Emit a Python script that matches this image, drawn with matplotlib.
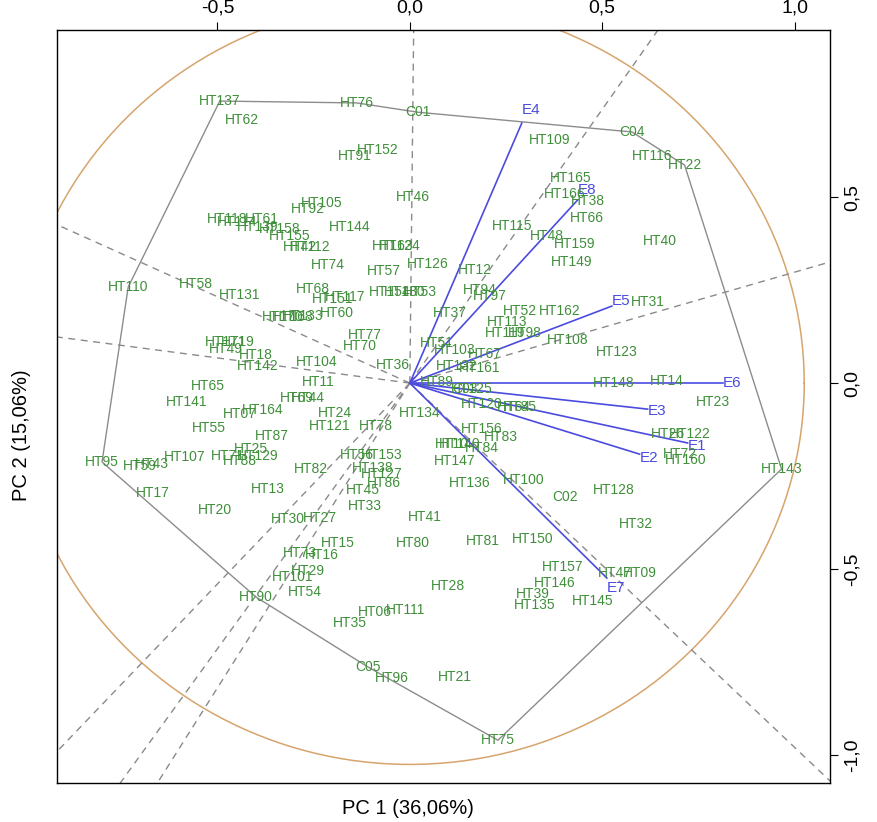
import numpy as np
import matplotlib.pyplot as plt

# genotype labels and their PC1 / PC2 scores
genotypes = ["HT137", "HT62", "HT76", "C01", "HT152", "HT91", "HT46", "HT105", "HT92",
             "HT118", "HT114", "HT61", "HT139", "HT158", "HT155", "HT144", "HT42", "HT112",
             "HT163", "HT124", "HT74", "HT57", "HT126", "HT12", "HT58", "HT110", "HT131",
             "HT68", "HT151", "HT117", "HT60", "HT170", "HT168", "HT133", "HT154", "HT130",
             "HT53", "HT94", "HT97", "HT37", "HT77", "HT70", "HT51", "HT103", "HT52",
             "HT162", "HT113", "HT119", "HT98", "HT108", "HT123", "HT67", "HT132", "HT161",
             "HT36", "HT104", "HT19", "HT49", "HT171", "HT18", "HT142", "HT11", "HT69",
             "HT44", "HT65", "HT141", "HT07", "HT164", "HT55", "HT24", "HT121", "HT78",
             "HT134", "HT89", "C03", "HT125", "HT120", "HT64", "HT85", "HT156", "HT83",
             "HT10", "HT140", "HT84", "HT147", "HT136", "HT100", "C02", "HT128", "HT148",
             "HT14", "HT23", "HT26", "HT122", "HT72", "HT160", "HT143", "HT31", "HT40",
             "HT116", "HT22", "C04", "HT109", "HT165", "HT166", "HT38", "HT66", "HT115",
             "HT48", "HT159", "HT149", "HT95", "HT59", "HT43", "HT107", "HT71", "HT25",
             "HT129", "HT88", "HT87", "HT17", "HT20", "HT13", "HT82", "HT56", "HT153",
             "HT138", "HT127", "HT86", "HT45", "HT33", "HT30", "HT27", "HT41", "HT80",
             "HT81", "HT150", "HT32", "HT15", "HT73", "HT16", "HT29", "HT101", "HT54",
             "HT90", "HT35", "HT06", "HT111", "C05", "HT96", "HT21", "HT75", "HT28",
             "HT157", "HT146", "HT39", "HT135", "HT145", "HT47", "HT09"]
pc1 = [-0.494, -0.436, -0.138, 0.021, -0.083, -0.143, 0.008, -0.229, -0.265,
       -0.475, -0.449, -0.384, -0.395, -0.338, -0.312, -0.156, -0.286, -0.260,
       -0.044, -0.026, -0.213, -0.068, 0.047, 0.169, -0.556, -0.732, -0.442,
       -0.252, -0.200, -0.169, -0.190, -0.330, -0.304, -0.278, -0.052, -0.013,
       0.026, 0.182, 0.208, 0.104, -0.117, -0.130, 0.070, 0.117, 0.286,
       0.390, 0.252, 0.247, 0.299, 0.410, 0.538, 0.195, 0.122, 0.182,
       -0.044, -0.242, -0.447, -0.478, -0.478, -0.400, -0.395, -0.239, -0.294,
       -0.265, -0.525, -0.579, -0.442, -0.382, -0.522, -0.195, -0.208, -0.088,
       0.026, 0.070, 0.143, 0.161, 0.187, 0.270, 0.286, 0.187, 0.236,
       0.109, 0.130, 0.187, 0.117, 0.156, 0.296, 0.403, 0.530, 0.530,
       0.668, 0.787, 0.670, 0.727, 0.701, 0.717, 0.966, 0.618, 0.649,
       0.629, 0.714, 0.577, 0.364, 0.418, 0.403, 0.462, 0.460, 0.265,
       0.356, 0.429, 0.421, -0.800, -0.701, -0.670, -0.584, -0.473, -0.413,
       -0.395, -0.442, -0.358, -0.668, -0.506, -0.369, -0.257, -0.138, -0.073,
       -0.096, -0.073, -0.068, -0.122, -0.117, -0.317, -0.234, 0.039, 0.008,
       0.190, 0.319, 0.587, -0.187, -0.286, -0.229, -0.265, -0.304, -0.273,
       -0.400, -0.156, -0.091, -0.010, -0.109, -0.047, 0.117, 0.229, 0.099,
       0.397, 0.377, 0.319, 0.325, 0.475, 0.532, 0.597]
pc2 = [0.758, 0.707, 0.753, 0.728, 0.626, 0.610, 0.500, 0.484, 0.468,
       0.441, 0.433, 0.441, 0.419, 0.414, 0.395, 0.419, 0.366, 0.366,
       0.368, 0.368, 0.317, 0.301, 0.320, 0.304, 0.266, 0.258, 0.237,
       0.253, 0.226, 0.231, 0.188, 0.177, 0.177, 0.180, 0.245, 0.245,
       0.245, 0.250, 0.234, 0.188, 0.129, 0.099, 0.108, 0.089, 0.194,
       0.194, 0.164, 0.134, 0.134, 0.116, 0.083, 0.078, 0.046, 0.040,
       0.048, 0.056, 0.110, 0.091, 0.110, 0.075, 0.046, 0.003, -0.040,
       -0.040, -0.008, -0.051, -0.083, -0.073, -0.121, -0.081, -0.116, -0.116,
       -0.081, 0.003, -0.016, -0.016, -0.056, -0.065, -0.065, -0.124, -0.145,
       -0.164, -0.164, -0.175, -0.210, -0.269, -0.261, -0.306, -0.288, 0.000,
       0.005, -0.051, -0.137, -0.137, -0.191, -0.207, -0.231, 0.218, 0.382,
       0.610, 0.586, 0.675, 0.653, 0.551, 0.508, 0.489, 0.444, 0.422,
       0.395, 0.374, 0.325, -0.212, -0.223, -0.218, -0.199, -0.196, -0.177,
       -0.196, -0.210, -0.142, -0.296, -0.341, -0.285, -0.231, -0.194, -0.194,
       -0.228, -0.245, -0.269, -0.288, -0.331, -0.366, -0.363, -0.360, -0.430,
       -0.425, -0.419, -0.379, -0.430, -0.457, -0.462, -0.505, -0.522, -0.562,
       -0.575, -0.645, -0.616, -0.610, -0.763, -0.793, -0.790, -0.960, -0.546,
       -0.495, -0.538, -0.567, -0.597, -0.586, -0.511, -0.511]

# environments (vectors)
environments = ["E1", "E2", "E3", "E4", "E5", "E6", "E7", "E8"]
env_pc1 = [0.722, 0.597, 0.618, 0.291, 0.525, 0.813, 0.512, 0.436]
env_pc2 = [-0.161, -0.191, -0.070, 0.699, 0.207, 0.000, -0.524, 0.492]

# polygon vertices (genotypes at the corners) and sector lines (degrees)
hull = ["HT137", "HT76", "C01", "C04", "HT22", "HT143", "HT75", "C05", "HT90", "HT95", "HT110"]
sector_angles = [89.4, 55.8, 16.6, -44.4, 227.2, 235.0, 238.6, 155.1, 172.3]
circle_radius = 1.025

plt.rcParams["font.family"] = ["Liberation Sans", "DejaVu Sans"]

green = "#3f8f3a"
blue = "#4b4be0"

fig = plt.figure(figsize=(8.77, 8.22), dpi=100)
ax = fig.add_axes([0.065, 0.0474, 0.881, 0.9161])

pos = dict(zip(genotypes, zip(pc1, pc2)))

# circle
t = np.linspace(0, 2 * np.pi, 400)
ax.plot(circle_radius * np.cos(t), circle_radius * np.sin(t), color="#d6a46c", lw=1.1)

# sector lines
for a in sector_angles:
    r = np.deg2rad(a)
    ax.plot([0, 3 * np.cos(r)], [0, 3 * np.sin(r)], color="#8a8a8a", lw=1.0,
            ls=(0, (5, 4)))

# polygon
hx = [pos[h][0] for h in hull] + [pos[hull[0]][0]]
hy = [pos[h][1] for h in hull] + [pos[hull[0]][1]]
ax.plot(hx, hy, color="#8c8c8c", lw=1.0)

# environment vectors
for name, x, y in zip(environments, env_pc1, env_pc2):
    ax.plot([0, x], [0, y], color=blue, lw=1.2)
    uy = y / np.hypot(x, y)
    ax.annotate(name, (x, y), xytext=(0, 10 * uy), textcoords="offset points",
                ha="left", va="center", color=blue, fontsize=11)

# genotype labels
for name, x, y in zip(genotypes, pc1, pc2):
    ax.text(x, y, name, ha="center", va="center", color=green, fontsize=10)

ax.set_xlim(-0.917, 1.091)
ax.set_ylim(-1.075, 0.949)

ax.xaxis.tick_top()
ax.yaxis.tick_right()
ax.set_xticks([-0.5, 0.0, 0.5, 1.0])
ax.set_xticklabels(["-0,5", "0,0", "0,5", "1,0"])
ax.set_yticks([0.5, 0.0, -0.5, -1.0])
ax.set_yticklabels(["0,5", "0,0", "-0,5", "-1,0"], rotation=90, va="center")
ax.tick_params(axis="both", direction="out", length=6, labelsize=14, pad=4)

fig.text(0.465, 0.017, "PC 1 (36,06%)", ha="center", va="center", fontsize=14.5)
fig.text(0.025, 0.47, "PC 2 (15,06%)", ha="center", va="center", rotation=90, fontsize=14.5)

for s in ax.spines.values():
    s.set_linewidth(1.0)

fig.savefig("out.png", dpi=100)
